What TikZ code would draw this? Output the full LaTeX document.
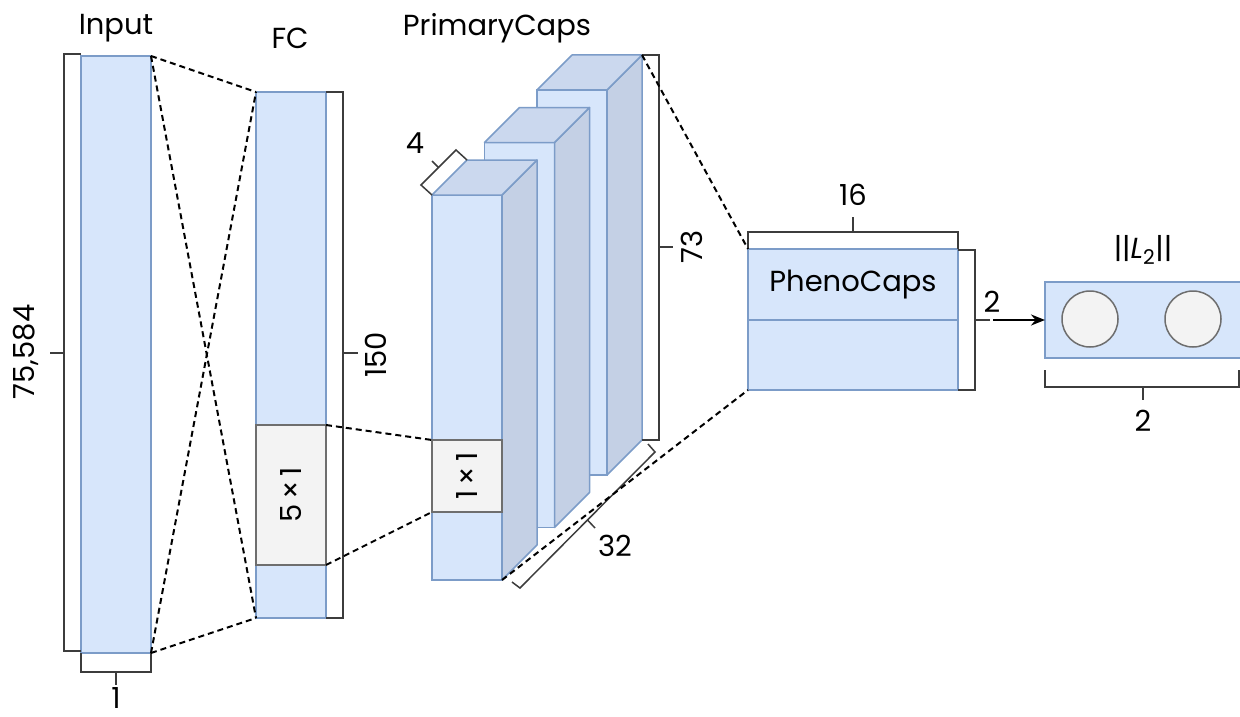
\documentclass[tikz,border=0pt]{standalone}
\usepackage{fontspec}
\setmainfont{Poppins}
\usetikzlibrary{arrows.meta}
\definecolor{bfill}{HTML}{D7E6FB}
\definecolor{bdraw}{HTML}{7C9CC8}
\definecolor{bside}{HTML}{C4D0E5}
\definecolor{btop}{HTML}{CBD8EE}
\definecolor{gfill}{HTML}{F3F3F3}
\definecolor{gdraw}{HTML}{6E6E6E}
\definecolor{brk}{HTML}{3C3C3C}
\begin{document}
\begin{tikzpicture}[x=1pt,y=-1pt,
 layer/.style={draw=bdraw, fill=bfill, line width=1.5pt, inner sep=0, outer sep=0, anchor=north west},
 sideface/.style={draw=bdraw, fill=bside, line width=1.5pt, line join=round},
 topface/.style={draw=bdraw, fill=btop, line width=1.5pt, line join=round},
 cell/.style={draw=gdraw, fill=gfill, line width=1.5pt, inner sep=0, outer sep=0, anchor=north west},
 bracket/.style={draw=brk, line width=1.5pt},
 link/.style={draw=black, line width=2pt, dash pattern=on 6pt off 4pt},
 txt/.style={font=\fontsize{29}{32}\selectfont, inner sep=0},
 unit/.style={circle, draw=gdraw, fill=gfill, line width=1.5pt, minimum size=56pt, inner sep=0},
]
\useasboundingbox (0,0) rectangle (1240,717);
\clip (0,0) rectangle (1240,717);
\fill[white] (0,0) rectangle (1240,717);

% Input
\node[layer, minimum width=70pt, minimum height=597pt] (inp) at (81,56) {};
\node[txt] (inplbl) at (116,28) {Input};
\draw[bracket] (81,54) -- (64,54) -- (64,651) -- (81,651);
\draw[bracket] (64,353) -- (50,353);
\node[txt, rotate=90] (inpn) at (26,352) {75,584};
\draw[bracket] (81,653) -- (81,672) -- (151,672) -- (151,653);
\draw[bracket] (116,672) -- (116,685);
\node[txt] (inpw) at (116,698) {1};

% FC
\node[layer, minimum width=70pt, minimum height=526pt] (fc) at (256,92) {};
\node[cell, minimum width=70pt, minimum height=140pt] (c5) at (256,425) {};
\node[txt, rotate=90] (c5lbl) at (291,495) {5\,×\,1};
\node[txt] (fclbl) at (290,38) {FC};
\draw[bracket] (326,92) -- (343,92) -- (343,618) -- (326,618);
\draw[bracket] (343,353) -- (358,353);
\node[txt, rotate=90] (fcn) at (376,355) {150};

% PrimaryCaps blocks
\node[layer, minimum width=70pt, minimum height=385pt] (b3) at (537,90) {};
\draw[sideface] (b3.north east) -- ++(35,-35) -- ++(0,385) -- (b3.south east) -- cycle;
\draw[topface] (b3.north west) -- ++(35,-35) -- ++(70,0) -- (b3.north east) -- cycle;
\coordinate (b3tr) at (642,55);

\node[layer, minimum width=70pt, minimum height=385pt] (b2) at (484.5,142.5) {};
\draw[sideface] (b2.north east) -- ++(35,-35) -- ++(0,385) -- (b2.south east) -- cycle;
\draw[topface] (b2.north west) -- ++(35,-35) -- ++(70,0) -- (b2.north east) -- cycle;

\node[layer, minimum width=70pt, minimum height=385pt] (b1) at (432,195) {};
\draw[sideface] (b1.north east) -- ++(35,-35) -- ++(0,385) -- (b1.south east) -- cycle;
\draw[topface] (b1.north west) -- ++(35,-35) -- ++(70,0) -- (b1.north east) -- cycle;
\node[cell, minimum width=70pt, minimum height=72pt] (c1) at (432,440) {};
\node[txt, rotate=90] (c1lbl) at (467,476) {1\,×\,1};

\node[txt] (pclbl) at (497,28) {PrimaryCaps};
\draw[bracket] (642,55) -- (659,55) -- (659,440) -- (642,440);
\draw[bracket] (659,247) -- (673,247);
\node[txt, rotate=90] (pcn) at (692,247) {73};
\draw[bracket] (432,195) -- (421,185) -- (456,150) -- (467,160);
\draw[bracket] (438.5,167.5) -- (432,161);
\node[txt] (pcd) at (415,143) {4};
\draw[bracket] (512,582) -- (520,588) -- (655,452) -- (648,444);
\draw[bracket] (587.5,520) -- (595,528);
\node[txt] (pcc) at (615,546) {32};

% PhenoCaps
\node[layer, minimum width=210pt, minimum height=141pt] (phc) at (748,249) {};
\draw[draw=bdraw, line width=1.5pt] (748,320) -- (958,320);
\node[txt] (phclbl) at (853,285) {PhenoCaps};
\draw[bracket] (748,249) -- (748,232) -- (958,232) -- (958,249);
\draw[bracket] (853,232) -- (853,217);
\node[txt] (phcw) at (853,195) {16};
\draw[bracket] (958,250) -- (975,250) -- (975,390) -- (958,390);
\draw[bracket] (975,320) -- (990,320);
\node[txt] (phch) at (992,302) {2};
\coordinate (arrs) at (993,320);

% L2
\node[layer, minimum width=220pt, minimum height=76pt] (l2) at (1045,282) {};
\node[unit] (u1) at (1090,319) {};
\node[unit] (u2) at (1193,319) {};
\node[txt] (l2lbl) at (1143,250) {||\textit{L}\textsubscript{2}||};
\draw[bracket] (1045,370) -- (1045,387) -- (1239,387) -- (1239,370);
\draw[bracket] (1143,387) -- (1143,400);
\node[txt] (l2w) at (1143,421) {2};

% connectors
\draw[link] (inp.north east) -- (fc.north west);
\draw[link] (inp.north east) -- (fc.south west);
\draw[link] (inp.south east) -- (fc.north west);
\draw[link] (inp.south east) -- (fc.south west);
\draw[link] (c5.north east) -- (c1.north west);
\draw[link] (c5.south east) -- (c1.south west);
\draw[link] (b3tr) -- (phc.north west);
\draw[link] (b1.south east) -- (phc.south west);
\draw[line width=2pt, -{Stealth[length=14pt,width=11pt]}] (arrs) -- (l2.west);
\end{tikzpicture}
\end{document}
